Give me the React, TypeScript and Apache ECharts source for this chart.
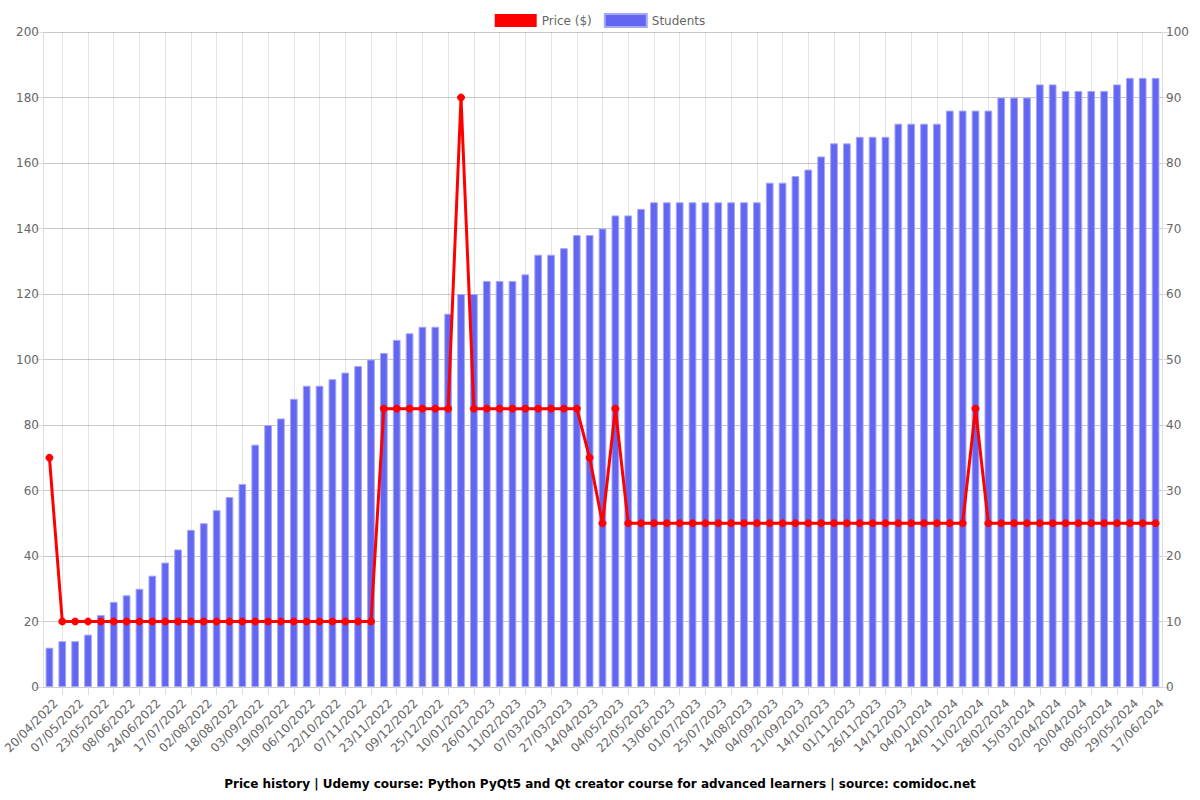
import React, { useEffect, useRef } from "react";
import * as echarts from "echarts";

const dates: string[] = [
  "20/04/2022", "28/04/2022", "07/05/2022", "15/05/2022", "23/05/2022", "31/05/2022",
  "08/06/2022", "16/06/2022", "24/06/2022", "05/07/2022", "17/07/2022", "25/07/2022",
  "02/08/2022", "10/08/2022", "18/08/2022", "26/08/2022", "03/09/2022", "11/09/2022",
  "19/09/2022", "27/09/2022", "06/10/2022", "14/10/2022", "22/10/2022", "30/10/2022",
  "07/11/2022", "15/11/2022", "23/11/2022", "01/12/2022", "09/12/2022", "17/12/2022",
  "25/12/2022", "02/01/2023", "10/01/2023", "18/01/2023", "26/01/2023", "03/02/2023",
  "11/02/2023", "23/02/2023", "07/03/2023", "17/03/2023", "27/03/2023", "05/04/2023",
  "14/04/2023", "24/04/2023", "04/05/2023", "13/05/2023", "22/05/2023", "01/06/2023",
  "13/06/2023", "22/06/2023", "01/07/2023", "13/07/2023", "25/07/2023", "04/08/2023",
  "14/08/2023", "24/08/2023", "04/09/2023", "12/09/2023", "21/09/2023", "02/10/2023",
  "14/10/2023", "23/10/2023", "01/11/2023", "13/11/2023", "26/11/2023", "05/12/2023",
  "14/12/2023", "24/12/2023", "04/01/2024", "14/01/2024", "24/01/2024", "02/02/2024",
  "11/02/2024", "19/02/2024", "28/02/2024", "07/03/2024", "15/03/2024", "24/03/2024",
  "02/04/2024", "11/04/2024", "20/04/2024", "29/04/2024", "08/05/2024", "18/05/2024",
  "29/05/2024", "08/06/2024", "17/06/2024",
];

const students: number[] = [
  6, 7, 7, 8, 11, 13, 14, 15, 17, 19, 21, 24, 25, 27, 29, 31, 37, 40, 41, 44,
  46, 46, 47, 48, 49, 50, 51, 53, 54, 55, 55, 57, 60, 60, 62, 62, 62, 63, 66, 66,
  67, 69, 69, 70, 72, 72, 73, 74, 74, 74, 74, 74, 74, 74, 74, 74, 77, 77, 78, 79,
  81, 83, 83, 84, 84, 84, 86, 86, 86, 86, 88, 88, 88, 88, 90, 90, 90, 92, 92, 91,
  91, 91, 91, 92, 93, 93, 93,
];

const price: number[] = [
  70, 20, 20, 20, 20, 20, 20, 20, 20, 20, 20, 20, 20, 20, 20, 20, 20, 20, 20, 20,
  20, 20, 20, 20, 20, 20, 85, 85, 85, 85, 85, 85, 180, 85, 85, 85, 85, 85, 85, 85,
  85, 85, 70, 50, 85, 50, 50, 50, 50, 50, 50, 50, 50, 50, 50, 50, 50, 50, 50, 50,
  50, 50, 50, 50, 50, 50, 50, 50, 50, 50, 50, 50, 85, 50, 50, 50, 50, 50, 50, 50,
  50, 50, 50, 50, 50, 50, 50,
];

const titleText =
  "Price history | Udemy course: Python PyQt5 and Qt creator course for advanced learners | source: comidoc.net";

const FONT = "DejaVu Sans";

export default function App() {
  const ref = useRef<HTMLDivElement>(null);

  useEffect(() => {
    if (!ref.current) return;
    const chart = echarts.init(ref.current, undefined, { renderer: "svg" });
    const oddIdx = (i: number) => i % 2 === 1;
    const gridDates = dates.filter((_, i) => i % 2 === 1);
    chart.setOption({
      animation: false,
      backgroundColor: "#ffffff",
      textStyle: { fontFamily: FONT },
      title: {
        text: titleText,
        left: "center",
        bottom: 5,
        textStyle: { fontFamily: FONT, fontSize: 12, fontWeight: "bold", color: "#000" },
      },
      legend: {
        top: 8,
        left: "center",
        icon: "rect",
        itemWidth: 42,
        itemHeight: 13,
        itemGap: 12,
        textStyle: { fontFamily: FONT, fontSize: 12, color: "#666" },
        data: ["Price ($)", "Students"],
      },
      grid: {
        left: 43,
        right: 38,
        top: 32,
        bottom: 113,
        containLabel: false,
        outerBoundsMode: "none",
      },
      xAxis: {
        type: "category",
        data: dates,
        boundaryGap: true,
        axisLine: { show: true, lineStyle: { color: "#cccccc" } },
        axisTick: {
          show: true,
          alignWithLabel: true,
          interval: oddIdx,
          length: 8,
          lineStyle: { color: "#dddddd" },
        },
        splitLine: { show: false },
        axisLabel: {
          interval: 1,
          rotate: 45,
          margin: 8,
          verticalAlign: "top",
          padding: [3, 0, 0, 0],
          fontFamily: FONT,
          fontSize: 12,
          color: "#666",
        },
      },
      yAxis: [
        {
          type: "value",
          min: 0,
          max: 200,
          interval: 20,
          position: "left",
          axisLine: { show: true, lineStyle: { color: "#dddddd" } },
          axisTick: { show: true, length: 8, lineStyle: { color: "#dddddd" } },
          splitLine: { show: true, lineStyle: { color: "rgba(0,0,0,0.12)" } },
          axisLabel: { fontFamily: FONT, fontSize: 12, color: "#666", margin: 4 },
        },
        {
          type: "value",
          min: 0,
          max: 100,
          interval: 10,
          position: "right",
          axisLine: { show: true, lineStyle: { color: "#dddddd" } },
          axisTick: { show: true, length: 8, lineStyle: { color: "#dddddd" } },
          splitLine: { show: true, lineStyle: { color: "rgba(0,0,0,0.1)" } },
          axisLabel: { fontFamily: FONT, fontSize: 12, color: "#666", margin: 4 },
        },
      ],
      series: [
        {
          name: "Price ($)",
          type: "line",
          yAxisIndex: 0,
          data: price,
          z: 5,
          symbol: "circle",
          symbolSize: 7,
          lineStyle: { color: "#ff0000", width: 3 },
          itemStyle: { color: "#ff0000", borderColor: "#ff0000" },
        },
        {
          name: "Students",
          type: "bar",
          yAxisIndex: 1,
          data: students,
          barWidth: "60%",
          z: 2,
          itemStyle: {
            color: "#6366f1",
            borderColor: "#a5a7f7",
            borderWidth: 1,
          },
          markLine: {
            silent: true,
            symbol: "none",
            z: 0,
            label: { show: false },
            lineStyle: { color: "rgba(0,0,0,0.1)", width: 1, type: "solid" },
            emphasis: { disabled: true },
            data: gridDates.map((d) => ({ xAxis: d })),
          },
        },
      ],
    });
    return () => chart.dispose();
  }, []);

  return (
    <div
      ref={ref}
      style={{ position: "fixed", left: 0, top: 0, width: 1200, height: 800 }}
    />
  );
}
